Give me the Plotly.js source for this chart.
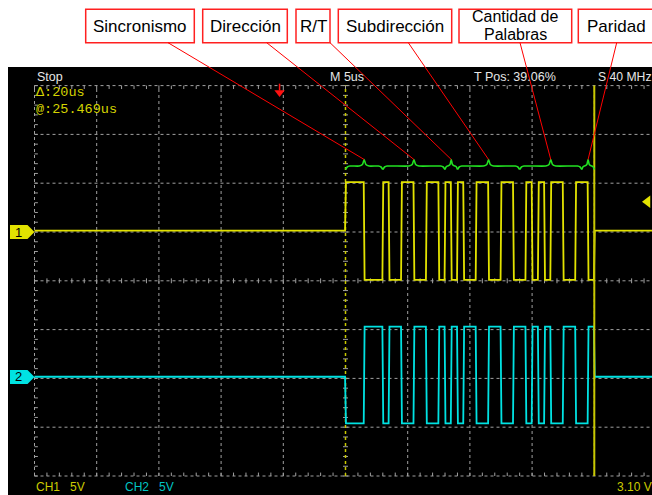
<!DOCTYPE html>
<html><head><meta charset="utf-8">
<script src="https://cdn.plot.ly/plotly-3.0.1.min.js"></script>
<style>html,body{margin:0;padding:0;background:#fff;}#chart{width:652px;height:495px;}</style>
</head><body><div id="chart"></div>
<script>
// ================= DATA =================
const segmentLabels = ['Sincronismo', 'Dirección', 'R/T', 'Subdirección', 'Cantidad de Palabras', 'Paridad'];
const segmentStartUs = [0, 3, 8, 9, 14, 19];
const segmentEndUs   = [3, 8, 9, 14, 19, 20];

// Channel levels per half-bit (0.5 us each), from t = 0 to 20 us, in volts
const halfBitUs = 0.5;
const ch1HalfBitVolts = [
  5.1, 5.1, 5.1, -4.9, -4.9, -4.9,
  5.1, -4.9, -4.9, 5.1, 5.1, -4.9, -4.9, 5.1, 5.1, -4.9,
  5.1, -4.9,
  5.1, -4.9, -4.9, 5.1, 5.1, -4.9, -4.9, 5.1, 5.1, -4.9,
  -4.9, 5.1, -4.9, 5.1, -4.9, 5.1, 5.1, -4.9, -4.9, 5.1,
  5.1, -4.9
];
const ch2HalfBitVolts = [
  -4.6, -4.6, -4.6, 5.3, 5.3, 5.3,
  -4.6, 5.3, 5.3, -4.6, -4.6, 5.3, 5.3, -4.6, -4.6, 5.3,
  -4.6, 5.3,
  -4.6, 5.3, 5.3, -4.6, -4.6, 5.3, 5.3, -4.6, -4.6, 5.3,
  5.3, -4.6, 5.3, -4.6, 5.3, -4.6, -4.6, 5.3, 5.3, -4.6,
  -4.6, 5.3
];
const ch1IdleVolts = 0.15;
const ch2IdleVolts = 0.17;
const channelOffsetDiv = [1, -2];
const channelVoltsPerDiv = [5, 5];
const timePerDivUs = 5;
const cursorTimesUs = [0, 20];
const triggerLevelVolts = 3.10;
const triggerMarkerTimeUs = -5.3;
const headerTexts = ['Stop', 'M 5us', 'T Pos: 39.06%', 'S 40 MHz'];
const cursorTexts = ['Δ:20us', '@:25.469us'];
const footerTexts = ['CH1', '5V', 'CH2', '5V', '3.10 V'];

// ================= LAYOUT GEOMETRY (px) =================
const W = 652, H = 495;
const M = {l: 8, r: 0, t: 67, b: 0};
const gridLeftPx = 34.5, divPx = 62.2, gridTopPx = 85.6, vDivPx = 48.8;
const xr = [-25 - (gridLeftPx - M.l) / divPx * timePerDivUs, -25 + (W - gridLeftPx) / divPx * timePerDivUs];
const yr = [4 - (H - gridTopPx) / vDivPx, 4 + (gridTopPx - M.t) / vDivPx];
const pw = W - M.l - M.r, ph = H - M.t - M.b;
const xp = px => (px - M.l) / pw;
const yp = py => (H - M.b - py) / ph;
const tToPaper = t => (t - xr[0]) / (xr[1] - xr[0]);
const dToPaper = d => (d - yr[0]) / (yr[1] - yr[0]);
const pxToT = px => (px - gridLeftPx) / divPx * timePerDivUs - 25;

const GRID = '#a0a0a0';
const YEL = '#e2e200', CYA = '#00e2e2', YTXT = '#cccc00', CTXT = '#00c4c4';
const SANS = 'Liberation Sans, Arial, sans-serif';

const traces = [];
// ---- graticule ----
const gx = [], gy = [];
for (let t = -25; t <= 20; t += timePerDivUs) { if (t === 0) continue; gx.push(t, t, null); gy.push(-4, 4, null); }
for (let d = -4; d <= 4; d++) { gx.push(-25, 25, null); gy.push(d, d, null); }
traces.push({x: gx, y: gy, mode: 'lines', line: {color: GRID, width: 1, dash: '3px,3px'}, hoverinfo: 'skip'});
const tx = [], ty = [];
const tLenT = 0.27, tLenD = 0.07;
for (let t = -25; t <= 25.001; t += 1) {
  tx.push(t, t, null); ty.push(4, 4 - tLenD, null);
  tx.push(t, t, null); ty.push(-4, -4 + tLenD, null);
  tx.push(t, t, null); ty.push(-0.05, 0.05, null);
}
for (let k = -20; k <= 20; k++) {
  const d = k * 0.2;
  tx.push(-25, -25 + tLenT, null); ty.push(d, d, null);
  tx.push(-0.2, 0.2, null); ty.push(d, d, null);
}
traces.push({x: tx, y: ty, mode: 'lines', line: {color: GRID, width: 1}, hoverinfo: 'skip'});

// ---- cursor 1 (dashed) ----
traces.push({x: [cursorTimesUs[0], cursorTimesUs[0]], y: [-4, 4], mode: 'lines',
  line: {color: '#c8c800', width: 1.5, dash: '3px,3px'}, hoverinfo: 'skip'});

// ---- waveforms ----
function wave(levels, idle, ch) {
  const e = 0.07, off = channelOffsetDiv[ch], s = channelVoltsPerDiv[ch];
  const x = [-25, -e / 2], y = [off + idle / s, off + idle / s];
  levels.forEach((v, i) => {
    const a = i * halfBitUs, b = a + halfBitUs;
    x.push(a + e / 2, b - e / 2); y.push(off + v / s, off + v / s);
  });
  const tEnd = levels.length * halfBitUs;
  x.push(tEnd + e / 2, xr[1] + 1); y.push(off + idle / s, off + idle / s);
  return {x, y};
}
const w1 = wave(ch1HalfBitVolts, ch1IdleVolts, 0);
const w2 = wave(ch2HalfBitVolts, ch2IdleVolts, 1);
traces.push({x: w2.x, y: w2.y, mode: 'lines', line: {color: CYA, width: 1.8}, hoverinfo: 'skip'});
traces.push({x: w1.x, y: w1.y, mode: 'lines', line: {color: YEL, width: 1.8}, hoverinfo: 'skip'});

// ---- cursor 2 (solid) ----
traces.push({x: [cursorTimesUs[1], cursorTimesUs[1]], y: [-4, 4], mode: 'lines',
  line: {color: '#c8c800', width: 2}, hoverinfo: 'skip'});

// ---- braces ----
const braceBase = 2.352, braceTip = 2.486, braceLow = 2.281;
const bx = [], by = [];
segmentStartUs.forEach((a, i) => {
  const b = segmentEndUs[i], m = (a + b) / 2, w = b - a;
  const c = Math.min(0.35, w * 0.2), h = Math.min(0.4, w * 0.28);
  bx.push(a, a + c * 0.4, a + c, m - h, m - h * 0.35, m, m + h * 0.35, m + h, b - c, b - c * 0.4, b, null);
  by.push(braceLow, braceBase - 0.02, braceBase, braceBase, braceBase + 0.03, braceTip, braceBase + 0.03, braceBase, braceBase, braceBase - 0.02, braceLow, null);
});
traces.push({x: bx, y: by, mode: 'lines', line: {color: '#22e022', width: 1.6, shape: 'spline', smoothing: 0.6}, hoverinfo: 'skip'});

// ---- trigger markers ----
const trigLevelDiv = channelOffsetDiv[0] + triggerLevelVolts / channelVoltsPerDiv[0];
traces.push({x: [pxToT(647.5)], y: [trigLevelDiv], mode: 'markers',
  marker: {symbol: 'triangle-left', size: 11, color: '#e2e200', line: {width: 0}}, hoverinfo: 'skip'});
traces.push({x: [triggerMarkerTimeUs, triggerMarkerTimeUs], y: [4.04, 3.9], mode: 'lines',
  line: {color: '#ff1010', width: 1.5}, hoverinfo: 'skip'});
traces.push({x: [triggerMarkerTimeUs], y: [3.86], mode: 'markers',
  marker: {symbol: 'triangle-down', size: 9, color: '#ff1010', line: {width: 0}}, hoverinfo: 'skip'});

// ================= SHAPES & ANNOTATIONS =================
const shapes = [], annotations = [];
const boxLeftPx  = [85.7, 202.7, 296, 338.3, 459, 578.3];
const boxRightPx = [194.3, 287.3, 330, 451.7, 571.7, 662];
const boxTopPx = 9.3, boxBottomPx = 42.7;
const calloutAnchorPx = [168, 266.7, 330, 408.3, 520, 616.7];
segmentLabels.forEach((lab, i) => {
  shapes.push({type: 'rect', xref: 'paper', yref: 'paper', x0: xp(boxLeftPx[i]), x1: xp(boxRightPx[i]),
    y0: yp(boxBottomPx), y1: yp(boxTopPx), line: {color: '#ff2020', width: 1.5}, fillcolor: '#ffffff', layer: 'above'});
  const m = (segmentStartUs[i] + segmentEndUs[i]) / 2;
  shapes.push({type: 'line', xref: 'paper', yref: 'paper', x0: xp(calloutAnchorPx[i]), y0: yp(boxBottomPx),
    x1: tToPaper(m), y1: dToPaper(braceTip), line: {color: '#ff0000', width: 1}, layer: 'above'});
  const cx = (boxLeftPx[i] + boxRightPx[i]) / 2;
  if (lab.indexOf(' de ') > 0) {
    const parts = lab.split(' de ');
    annotations.push({text: parts[0] + ' de', xref: 'paper', yref: 'paper', x: xp(cx), y: yp(16.2), showarrow: false,
      xanchor: 'center', yanchor: 'middle', font: {family: SANS, size: 16, color: '#000'}});
    annotations.push({text: parts[1], xref: 'paper', yref: 'paper', x: xp(cx), y: yp(34.2), showarrow: false,
      xanchor: 'center', yanchor: 'middle', font: {family: SANS, size: 16, color: '#000'}});
  } else {
    annotations.push({text: lab, xref: 'paper', yref: 'paper', x: xp(i === 5 ? 585 : cx), y: yp(26.5), showarrow: false,
      xanchor: i === 5 ? 'left' : 'center', yanchor: 'middle', font: {family: SANS, size: 17, color: '#000'}});
  }
});

// channel ground markers
[[0, YEL, '1'], [1, CYA, '2']].forEach(([ch, col, lbl]) => {
  const yc = dToPaper(channelOffsetDiv[ch] + (ch === 0 ? 0 : 0.03));
  const hh = 7 / ph;
  const x0 = xp(10), x1 = xp(27.5), xt = xp(34.5);
  shapes.push({type: 'path', xref: 'paper', yref: 'paper',
    path: `M${x0},${yc - hh} L${x1},${yc - hh} L${xt},${yc} L${x1},${yc + hh} L${x0},${yc + hh} Z`,
    fillcolor: col, line: {width: 0}, layer: 'above'});
  annotations.push({text: lbl, xref: 'paper', yref: 'paper', x: xp(18), y: yc, showarrow: false,
    xanchor: 'center', yanchor: 'middle', font: {family: SANS, size: 13, color: '#000'}});
});

// header texts
const headerPx = [34.5, 327.7, 471.7, 595.5];
const headerSize = [12.5, 12.5, 12.5, 12.2];
headerTexts.forEach((t, i) => annotations.push({text: t, xref: 'paper', yref: 'paper', x: xp(headerPx[i]), y: yp(77),
  showarrow: false, xanchor: 'left', yanchor: 'middle', font: {family: SANS, size: headerSize[i], color: '#e6e6e6'}}));
// cursor readouts
const cursorPy = [92.5, 109.5];
cursorTexts.forEach((t, i) => annotations.push({text: t, xref: 'paper', yref: 'paper', x: xp(34), y: yp(cursorPy[i]),
  showarrow: false, xanchor: 'left', yanchor: 'middle', font: {family: 'Liberation Mono, DejaVu Sans Mono, monospace', size: 13.5, color: '#d4d400'}}));
// footer
const footerPx = [34.3, 68.3, 123.3, 156.7, 615];
const footerCol = [YTXT, YTXT, CTXT, CTXT, YTXT];
footerTexts.forEach((t, i) => annotations.push({text: t, xref: 'paper', yref: 'paper', x: xp(footerPx[i]), y: yp(487.3),
  showarrow: false, xanchor: 'left', yanchor: 'middle', font: {family: SANS, size: 12, color: footerCol[i]}}));

const layout = {
  width: W, height: H, margin: M, paper_bgcolor: '#ffffff', plot_bgcolor: '#000000',
  showlegend: false, hovermode: false,
  xaxis: {range: xr, visible: false, showgrid: false, zeroline: false, fixedrange: true},
  yaxis: {range: yr, visible: false, showgrid: false, zeroline: false, fixedrange: true},
  shapes, annotations
};
Plotly.newPlot('chart', traces, layout, {displayModeBar: false, staticPlot: true});
</script></body></html>
